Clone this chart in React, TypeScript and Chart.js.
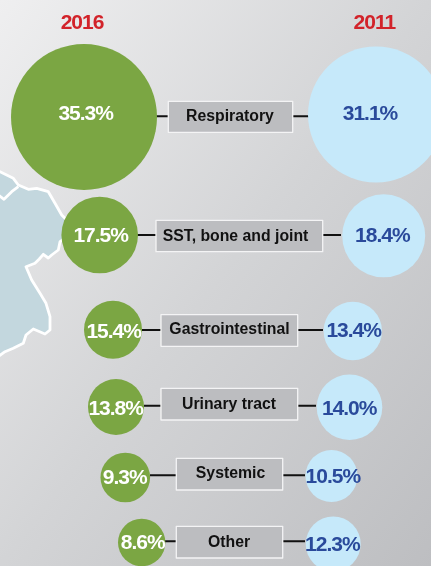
import React, { useEffect, useRef } from "react";
import { Chart, registerables } from "chart.js";

Chart.register(...registerables);

// --- data ---
const categories = ["Respiratory", "SST, bone and joint", "Gastrointestinal", "Urinary tract", "Systemic", "Other"];
const years = ["2016", "2011"];
const values2016 = [35.3, 17.5, 15.4, 13.8, 9.3, 8.6];
const values2011 = [31.1, 18.4, 13.4, 14.0, 10.5, 12.3];

// --- hand-placed layout of the infographic (scale units equal canvas pixels) ---
const bubbleX2016 = [84, 99.7, 113, 116, 125.3, 141.7];
const bubbleY2016 = [117, 235, 329.7, 407, 477.5, 542.5];
const bubbleR2016 = [73, 38.3, 29, 28, 24.8, 23.7];
const bubbleX2011 = [376, 383.7, 352.8, 349.5, 331.5, 333.2];
const bubbleY2011 = [114.5, 235.8, 331, 407.3, 476, 544];
const bubbleR2011 = [68, 41.5, 29.2, 32.8, 26, 27.5];

const labelX2016 = [85.7, 100.7, 113.7, 115.7, 124.7, 142.7];
const labelY2016 = [119.5, 242, 338, 415, 484, 549];
const labelX2011 = [370, 382.3, 353.7, 349.2, 332.8, 332.3];
const labelY2011 = [119.5, 242, 337, 415.3, 483.3, 551.3];

const boxLeft = [168.3, 156, 161, 161, 176.3, 176.3];
const boxRight = [292.7, 322.7, 297.7, 297.7, 282.7, 282.7];
const boxTop = [101.3, 220.3, 314.7, 388.3, 458.3, 526.3];
const boxBottom = [132.3, 251.7, 346.3, 420, 490, 558];
const boxBaseline = [120.7, 240.7, 333.7, 409, 478, 547];
const boxCenter = [230, 235.5, 229.5, 229, 230.5, 229];

const linkY = [116.3, 235, 330, 405.7, 475.3, 541.3];
const linkLeftFrom = [155.7, 137, 142, 144, 150, 165];
const linkRightTo = [309, 341, 323, 316, 305, 305];

const yearX = [82, 374.3];
const yearBaseline = 29;

const mapOutline: [number, number][] = [
  [-5, 169], [0, 171.7], [6.7, 175], [13.3, 178.3], [18.3, 185], [28.3, 189.3], [36.7, 188.3], [48.3, 191.7],
  [55, 203.3], [61.7, 215], [66.7, 220], [70, 235], [60, 241.7], [58.3, 250], [51.7, 255], [48.3, 258],
  [43.3, 254.3], [39.3, 259], [35, 263.3], [26, 266.7], [31.7, 280], [40, 293.3], [46, 303.3], [50, 316.7],
  [50, 330], [45, 334], [33.3, 329], [26, 335], [23.3, 343.3], [13.3, 348.3], [5, 351.7], [-5, 359],
];
const mapInner: [number, number][] = [[18.3, 186.7], [11.7, 191.7], [4, 199.3], [-3, 194]];

const GREEN = "#7ba643";
const SKY = "#c6e9fa";
const RED = "#d2232a";
const BLUE = "#2a4a9b";
const FONT = '"Liberation Sans", Arial, sans-serif';

const fmt = (v: number) => v.toFixed(1) + "%";

const layoutPlugin = {
  id: "infographic",
  beforeDatasetsDraw(chart: any) {
    const { ctx, width, height, scales } = chart;
    const X = (v: number) => scales.x.getPixelForValue(v);
    const Y = (v: number) => scales.y.getPixelForValue(v);
    ctx.save();
    const k = (2 * width * height) / (width * width + height * height);
    const g = ctx.createLinearGradient(0, 0, height * k, width * k);
    g.addColorStop(0, "#efeff0");
    g.addColorStop(0.5, "#d3d4d6");
    g.addColorStop(1, "#bdbec1");
    ctx.fillStyle = g;
    ctx.fillRect(0, 0, width, height);

    ctx.beginPath();
    mapOutline.forEach(([x, y], i) => (i ? ctx.lineTo(X(x), Y(y)) : ctx.moveTo(X(x), Y(y))));
    ctx.lineTo(X(-5), Y(359));
    ctx.closePath();
    ctx.fillStyle = "#c3d7de";
    ctx.fill();
    ctx.strokeStyle = "#ffffff";
    ctx.lineWidth = 2.8;
    ctx.lineJoin = "round";
    ctx.stroke();
    ctx.beginPath();
    mapInner.forEach(([x, y], i) => (i ? ctx.lineTo(X(x), Y(y)) : ctx.moveTo(X(x), Y(y))));
    ctx.stroke();

    // connectors
    ctx.strokeStyle = "#111111";
    ctx.lineWidth = 2;
    categories.forEach((_, i) => {
      ctx.beginPath();
      ctx.moveTo(X(linkLeftFrom[i]), Y(linkY[i]));
      ctx.lineTo(X(boxLeft[i]), Y(linkY[i]));
      ctx.moveTo(X(boxRight[i]), Y(linkY[i]));
      ctx.lineTo(X(linkRightTo[i]), Y(linkY[i]));
      ctx.stroke();
    });

    // category boxes
    categories.forEach((name, i) => {
      const l = X(boxLeft[i]), t = Y(boxTop[i]);
      const w = X(boxRight[i]) - l, h = Y(boxBottom[i]) - t;
      ctx.fillStyle = "#bcbdc0";
      ctx.fillRect(l, t, w, h);
      ctx.strokeStyle = "#f4f4f5";
      ctx.lineWidth = 1.3;
      ctx.strokeRect(l, t, w, h);
      ctx.fillStyle = "#111111";
      ctx.font = `bold 15.8px ${FONT}`;
      ctx.textAlign = "center";
      ctx.textBaseline = "alphabetic";
      ctx.fillText(name, X(boxCenter[i]), Y(boxBaseline[i]));
    });
    ctx.restore();
  },
  afterDatasetsDraw(chart: any) {
    const { ctx, scales } = chart;
    const X = (v: number) => scales.x.getPixelForValue(v);
    const Y = (v: number) => scales.y.getPixelForValue(v);
    ctx.save();
    ctx.textAlign = "center";
    ctx.textBaseline = "alphabetic";
    ctx.font = `bold 21px ${FONT}`;
    (ctx as any).letterSpacing = "-1px";
    ctx.fillStyle = RED;
    years.forEach((y, i) => ctx.fillText(y, X(yearX[i]), Y(yearBaseline)));
    ctx.fillStyle = "#ffffff";
    values2016.forEach((v, i) => ctx.fillText(fmt(v), X(labelX2016[i]), Y(labelY2016[i])));
    ctx.fillStyle = BLUE;
    values2011.forEach((v, i) => ctx.fillText(fmt(v), X(labelX2011[i]), Y(labelY2011[i])));
    ctx.restore();
  },
};

export default function App() {
  const ref = useRef<HTMLCanvasElement>(null);
  useEffect(() => {
    document.body.style.margin = "0";
    const chart = new Chart(ref.current as HTMLCanvasElement, {
      type: "bubble",
      data: {
        datasets: [
          {
            label: years[0],
            data: values2016.map((_, i) => ({ x: bubbleX2016[i], y: bubbleY2016[i], r: bubbleR2016[i] })),
            backgroundColor: GREEN,
            borderWidth: 0,
          },
          {
            label: years[1],
            data: values2011.map((_, i) => ({ x: bubbleX2011[i], y: bubbleY2011[i], r: bubbleR2011[i] })),
            backgroundColor: SKY,
            borderWidth: 0,
          },
        ],
      },
      options: {
        responsive: false,
        animation: false,
        layout: { padding: 0, autoPadding: false },
        scales: {
          x: { type: "linear", display: false, min: 0, max: 431 },
          y: { type: "linear", display: false, min: 0, max: 566, reverse: true },
        },
        plugins: { legend: { display: false }, tooltip: { enabled: false } },
      },
      plugins: [layoutPlugin],
    } as any);
    return () => chart.destroy();
  }, []);
  return <canvas ref={ref} width={431} height={566} style={{ display: "block", width: 431, height: 566 }} />;
}
